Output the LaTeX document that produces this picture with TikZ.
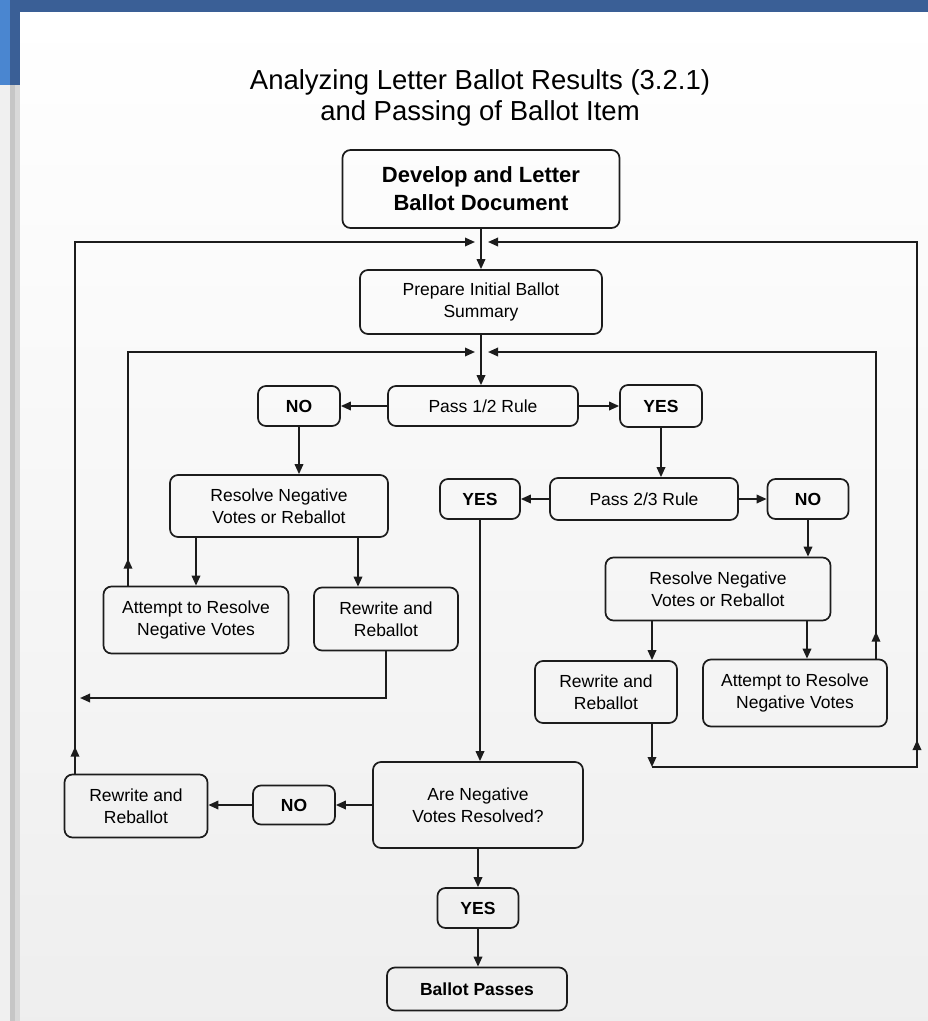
\documentclass[tikz,border=0pt]{standalone}
\usepackage{fontspec}
\setmainfont{Liberation Sans}
\usetikzlibrary{positioning,arrows.meta,calc}
\definecolor{slideblue}{HTML}{3A5F96}
\definecolor{lightblue}{HTML}{4A86D0}
\definecolor{ink}{HTML}{1C1C1C}

\begin{document}
\begin{tikzpicture}[x=1pt, y=-1pt,
  box/.style  = {draw=ink, line width=1.7pt, rounded corners=8pt, align=center, inner sep=2pt,
                 font=\fontsize{17.5}{22}\selectfont},
  ans/.style  = {box, font=\fontsize{17.5}{22}\selectfont\bfseries, minimum width=82pt, minimum height=40pt},
  arr/.style  = {-{Triangle[length=10pt,width=8.5pt]}, line width=1.8pt, draw=ink},
  title/.style= {align=center, font=\fontsize{27.5}{31}\selectfont}
]
\useasboundingbox (0,0) rectangle (928,1021);

% ================= page and slide frame =================
\shade[top color=white, bottom color=gray!13] (20,12) rectangle (928,1021);
\fill[gray!12] (0,85) rectangle (20,1021);
\fill[gray!45] (10,85) rectangle (15,1021);
\fill[gray!30] (15,85) rectangle (20,1021);
\fill[slideblue] (0,0) rectangle (928,12);
\fill[slideblue] (0,0) rectangle (20,85);
\fill[lightblue] (0,0) rectangle (10,85);

% ================= title =================
\node[title] (ttl) at (480,98) {Analyzing Letter Ballot Results (3.2.1)\\and Passing of Ballot Item};

% ================= main column =================
\node[box, font=\fontsize{22}{28}\selectfont\bfseries, minimum width=277pt, minimum height=78pt]
  (dev) at (481,189) {Develop and Letter\\Ballot Document};
\node[box, minimum width=242pt, minimum height=64pt] (prep) at (481,302) {Prepare Initial Ballot\\Summary};
\node[box, minimum width=190pt, minimum height=40pt] (p12) at (483,406) {Pass 1/2 Rule};
\node[ans] (no1)  at (299,406)   {NO};
\node[ans, minimum height=42pt] (yes1) at (661,406) {YES};

% ================= left branch (1/2 rule failed) =================
\node[box, minimum width=218pt, minimum height=62pt] (res1) at (279,506) {Resolve Negative\\Votes or Reballot};
\node[box, minimum width=185pt, minimum height=67pt] (att1) at (196,620) {Attempt to Resolve\\Negative Votes};
\node[box, minimum width=144pt, minimum height=63pt] (rew1) at (386,619) {Rewrite and\\Reballot};

% ================= right branch (2/3 rule) =================
\node[ans, minimum width=80pt] (yes2) at (480,499) {YES};
\node[box, minimum width=188pt, minimum height=42pt] (p23) at (644,499) {Pass 2/3 Rule};
\node[ans, minimum width=81pt] (no2)  at (808,499) {NO};
\node[box, minimum width=225pt, minimum height=63pt] (res2) at (718,589) {Resolve Negative\\Votes or Reballot};
\node[box, minimum width=142pt, minimum height=62pt] (rew2) at (606,692) {Rewrite and\\Reballot};
\node[box, minimum width=184pt, minimum height=67pt] (att2) at (795,693) {Attempt to Resolve\\Negative Votes};

% ================= final check =================
\node[box, minimum width=210pt, minimum height=86pt] (are) at (478,805) {Are Negative\\Votes Resolved?};
\node[ans, minimum height=39pt] (no3) at (294,805) {NO};
\node[box, minimum width=143pt, minimum height=63pt] (rew3) at (136,806) {Rewrite and\\Reballot};
\node[ans, minimum width=81pt] (yes3) at (478,908) {YES};
\node[box, font=\fontsize{17.5}{22}\selectfont\bfseries, minimum width=180pt, minimum height=43pt]
  (pass) at (477,989) {Ballot Passes};

% ================= junctions =================
\coordinate (m1L) at (475,242);
\coordinate (m1R) at (488,242);
\coordinate (m2L) at (475,352);
\coordinate (m2R) at (488,352);
\coordinate (oL)  at (75,242);
\coordinate (iL)  at (128,352);
\coordinate (iR)  at (876,352);
\coordinate (b2)  at (652,767);
\coordinate (bR)  at (917,767);
\coordinate (j1)  at (80,698);
\coordinate (d1)  at (358,0);
\coordinate (d2)  at (807,0);

% ================= connectors =================
\draw[arr] (dev.south) -- (dev.south |- prep.north);
\draw[arr] (prep.south) -- (prep.south |- p12.north);
\draw[arr] (p12) -- (no1);
\draw[arr] (p12) -- (yes1);
\draw[arr] (no1) -- (no1 |- res1.north);
\draw[arr] (res1.south -| att1) -- (att1);
\draw[arr] (res1.south -| d1) -- (rew1.north -| d1);
\draw[arr] (yes1) -- (yes1 |- p23.north);
\draw[arr] (p23) -- (yes2);
\draw[arr] (p23) -- (no2);
\draw[arr] (no2) -- (no2 |- res2.north);
\draw[arr] (res2.south -| b2) -- (rew2.north -| b2);
\draw[arr] (res2.south -| d2) -- (att2.north -| d2);
\draw[arr] (yes2) -- (yes2 |- are.north);
\draw[arr] (are) -- (no3);
\draw[arr] (no3) -- (no3 -| rew3.east);
\draw[arr] (are.south) -- (are.south |- yes3.north);
\draw[arr] (yes3.south) -- (yes3.south |- pass.north);

% loops back to the summary
\draw[arr] (rew3.north -| oL) -- ++(0,-27);
\draw[arr] (rew3.north -| oL) |- (m1L);
\draw[arr] (rew1.south) |- (j1);
\draw[arr] (att1.north -| iL) -- ++(0,-27);
\draw[arr] (att1.north -| iL) |- (m2L);
\draw[arr] (att2.north -| iR) -- ++(0,-27);
\draw[arr] (att2.north -| iR) |- (m2R);
\draw[arr] (rew2.south -| b2) -- (b2);
\draw[arr] (b2) -- (bR) -- ++(0,-27);
\draw[arr] (bR) |- (m1R);
\end{tikzpicture}
\end{document}
